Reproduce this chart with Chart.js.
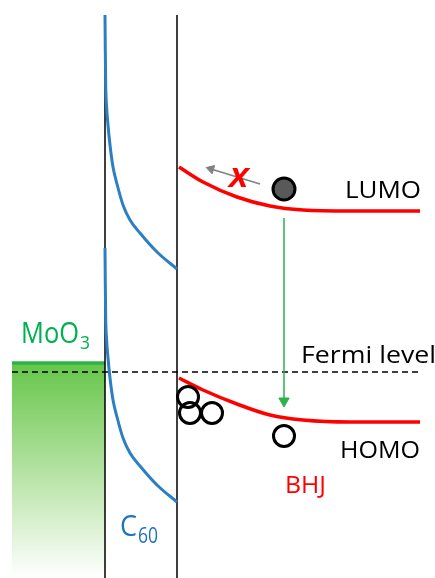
<!DOCTYPE html>
<html>
<head>
<meta charset="utf-8">
<script src="https://cdn.jsdelivr.net/npm/chart.js@4"></script>
<style>
  body { margin: 0; background: #fff; }
  #diagram { display: block; }
</style>
</head>
<body>
<canvas id="diagram" width="435" height="578"></canvas>
<script>
// band diagram values (x = position, y = energy, top of frame = 0, grows down)
const c60Upper = [[105,15],[105.3,50],[105.7,85],[106.5,105],[108,125],[110,145],[113,167],[117,184],[123,205],[130,220],[140,233],[157,252],[177,269]]
const c60Lower = [[105,248],[105.3,283],[105.7,318],[106.5,338],[108,358],[110,378],[113,400],[117,417],[123,438],[130,453],[140,466],[157,485],[177,502]]
const lumo = [[179,167],[203,182],[237,197],[270,206],[303,210],[350,211],[420,211]]
const homo = [[179,378],[203,390],[237,404],[270,415],[303,420],[350,422],[420,422]]
const interfaces = [105, 177]
const moo3Level = [[12,363],[105,363]]
const fermiLevel = [[12,372],[420,372]]
const holesInterface = [[188,397],[190,413],[212,413]]
const holeBulk = [[284,436]]
const electron = [[284,189]]
const transferArrow = [[284,218],[284,401]]
const blockedArrow = [[260,184],[211,169]]

const toPts = (arr) => arr.map((p) => ({ x: p[0], y: p[1] }))

const lineSet = (arr, color, width, order, extra) => Object.assign({
    data: toPts(arr),
    showLine: true,
    borderColor: color,
    borderWidth: width,
    pointRadius: 0,
    fill: false,
    order: order
}, extra || {})

// gradient for MoO3 block
const mooGradient = (context) => {
    const chart = context.chart
    if (!chart.chartArea) return 'rgba(108,200,79,0.6)'
    const y = chart.scales.y
    const g = chart.ctx.createLinearGradient(0, y.getPixelForValue(363), 0, y.getPixelForValue(578))
    g.addColorStop(0, '#66c64a')
    g.addColorStop(0.5, '#b4e2a2')
    g.addColorStop(1, '#ffffff')
    return g
}

// labels with subscripts, drawn through the scales
const labelsPlugin = {
    id: 'labels',
    afterDatasetsDraw(chart) {
        const { ctx, scales } = chart
        const px = (v) => scales.x.getPixelForValue(v)
        const py = (v) => scales.y.getPixelForValue(v)
        const font = '"Open Sans", "Lato", sans-serif'
        // text stretched to the width it has in the picture
        const txt = (s, x, y, size, color, width, style) => {
            ctx.save()
            ctx.font = (style || '') + ' ' + size + 'px ' + font
            ctx.fillStyle = color
            ctx.textBaseline = 'alphabetic'
            const m = ctx.measureText(s).width
            ctx.translate(px(x), py(y))
            ctx.scale(width / m, 1)
            ctx.fillText(s, 0, 0)
            ctx.restore()
        }
        txt('LUMO', 345, 198, 23, '#000', 76)
        txt('Fermi level', 301, 363, 23, '#000', 135)
        txt('HOMO', 340, 458, 23, '#000', 80)
        txt('BHJ', 285, 493, 23, '#ff0000', 41)
        txt('MoO', 21, 343, 29, '#00b050', 58)
        txt('3', 80, 349, 18, '#00b050', 10)
        txt('C', 120, 536, 29, '#1f72bd', 17)
        txt('60', 138, 543, 22, '#1f72bd', 20)
        // blocked transfer mark
        txt('X', 229, 187, 26, '#ff0000', 19, 'italic bold')
    }
}

const datasets = [
    lineSet(moo3Level, '#2db34a', 3.5, 10, { fill: { value: 578 }, backgroundColor: mooGradient }),
    lineSet(fermiLevel, '#000', 1.3, 9, { borderDash: [6, 4] }),
    lineSet([[interfaces[0],15],[interfaces[0],578]], '#000', 1.5, 8),
    lineSet([[interfaces[1],15],[interfaces[1],578]], '#000', 1.5, 8),
    lineSet(c60Upper, '#2a80c2', 3, 7, { cubicInterpolationMode: 'monotone' }),
    lineSet(c60Lower, '#2a80c2', 3, 7, { cubicInterpolationMode: 'monotone' }),
    lineSet(lumo, '#ff0000', 3.5, 6, { cubicInterpolationMode: 'monotone' }),
    lineSet(homo, '#ff0000', 3.5, 6, { cubicInterpolationMode: 'monotone' }),
    lineSet(transferArrow, '#2db34a', 1.5, 5, {
        pointRadius: [0, 6], pointStyle: 'triangle', rotation: 180,
        pointBackgroundColor: '#2db34a', pointBorderColor: '#2db34a', pointBorderWidth: 1
    }),
    lineSet(blockedArrow, '#808080', 1.5, 5, {
        pointRadius: [0, 5], pointStyle: 'triangle', rotation: 287,
        pointBackgroundColor: '#808080', pointBorderColor: '#808080', pointBorderWidth: 1
    }),
    {
        data: toPts(holesInterface.concat(holeBulk)),
        showLine: false,
        order: 1,
        pointRadius: 10.5, pointBorderWidth: 3,
        pointBackgroundColor: 'rgba(255,255,255,0)', pointBorderColor: '#000'
    },
    {
        data: toPts(electron),
        showLine: false,
        order: 1,
        pointRadius: 11, pointBorderWidth: 3,
        pointBackgroundColor: '#595959', pointBorderColor: '#000'
    }
]

new Chart(document.getElementById('diagram'), {
    type: 'scatter',
    data: { datasets },
    options: {
        responsive: false,
        animation: false,
        layout: { padding: 0, autoPadding: false },
        clip: false,
        plugins: { legend: { display: false }, tooltip: { enabled: false } },
        scales: {
            x: { type: 'linear', min: 0, max: 435, display: false },
            y: { type: 'linear', min: 0, max: 578, reverse: true, display: false }
        }
    },
    plugins: [labelsPlugin]
})
</script>
</body>
</html>
